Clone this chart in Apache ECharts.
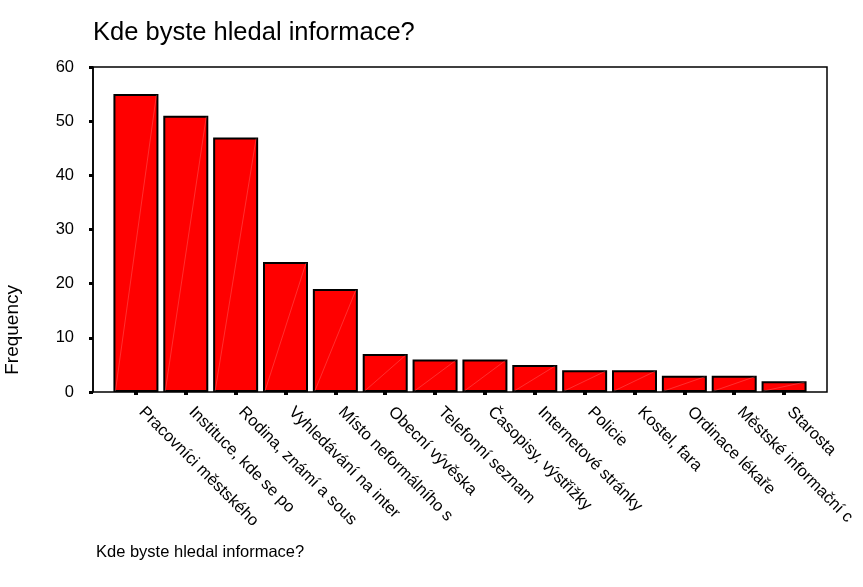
<!DOCTYPE html>
<html>
<head>
<meta charset="utf-8">
<script src="https://cdn.jsdelivr.net/npm/echarts@6/dist/echarts.min.js"></script>
<style>html,body{margin:0;padding:0;background:#fff}#c{width:863px;height:587px}</style>
</head>
<body>
<div id="c"></div>
<script>
var categories = ["Pracovníci městského","Instituce, kde se po","Rodina, známí a sous","Vyhledávání na inter","Místo neformálního s","Obecní vývěska","Telefonní seznam","Časopisy, výstřižky","Internetové stránky","Policie","Kostel, fara","Ordinace lékaře","Městské informační c","Starosta"];
var frequency = [55, 51, 47, 24, 19, 7, 6, 6, 5, 4, 4, 3, 3, 2];
var yTicks = [0, 10, 20, 30, 40, 50, 60];

var FONT = "Liberation Sans, Arial, sans-serif";
var BAR_W = 45;
var chart = echarts.init(document.getElementById('c'), null, {renderer: 'canvas'});
chart.setOption({
  animation: false,
  backgroundColor: '#fff',
  title: [
    {text: 'Kde byste hledal informace?', left: 88, top: 15,
     textStyle: {fontFamily: FONT, fontSize: 25.5, fontWeight: 'normal', color: '#000'}},
    {text: 'Kde byste hledal informace?', left: 91, top: 539,
     textStyle: {fontFamily: FONT, fontSize: 16.5, fontWeight: 'normal', color: '#000'}}
  ],
  graphic: [{
    type: 'text', left: 3, top: 285, rotation: Math.PI / 2,
    style: {text: 'Frequency', font: '19px ' + FONT, fill: '#000'}
  }],
  grid: [
    {left: 93, right: 36, top: 67, bottom: 195, show: true, borderColor: '#000', borderWidth: 1.5, backgroundColor: 'transparent'},
    {left: 111, right: 54, top: 67, bottom: 195}
  ],
  xAxis: [
    {gridIndex: 0, type: 'value', show: false, min: 0, max: 1},
    {gridIndex: 1, type: 'category', data: categories,
     axisLine: {show: false},
     axisTick: {show: true, alignWithLabel: true, length: 3, lineStyle: {color: '#000', width: 4}},
     axisLabel: {rotate: -45, margin: 12, interval: 0, padding: [0, 0, 0, 8], fontFamily: FONT, fontSize: 16.5, color: '#000'}}
  ],
  yAxis: [
    {gridIndex: 0, type: 'value', show: false, min: 0, max: 1},
    {gridIndex: 1, type: 'value', min: 0, max: 60, interval: 10, offset: 18,
     axisLine: {show: true, lineStyle: {color: '#000', width: 1.5}},
     axisTick: {show: true, length: 4, lineStyle: {color: '#000', width: 3}},
     splitLine: {show: false},
     axisLabel: {margin: 19, fontFamily: FONT, fontSize: 16.5, color: '#000',
       formatter: function (v) { return yTicks.indexOf(v) >= 0 ? String(v) : ''; }}}
  ],
  series: [{
    type: 'bar', xAxisIndex: 1, yAxisIndex: 1, data: frequency,
    barWidth: BAR_W,
    itemStyle: {color: '#ff0000', borderColor: '#000', borderWidth: 2}
  }, {
    type: 'custom', xAxisIndex: 1, yAxisIndex: 1, z: 3, silent: true,
    data: frequency.map(function (v, i) { return [i, v]; }),
    renderItem: function (params, api) {
      var top = api.coord([api.value(0), api.value(1)]);
      var base = api.coord([api.value(0), 0]);
      var h = BAR_W / 2 - 2;
      return {
        type: 'line',
        shape: {x1: base[0] - h, y1: base[1] - 1, x2: top[0] + h, y2: top[1] + 1},
        style: {stroke: 'rgba(255,150,150,0.45)', lineWidth: 0.7}
      };
    }
  }]
});
</script>
</body>
</html>
